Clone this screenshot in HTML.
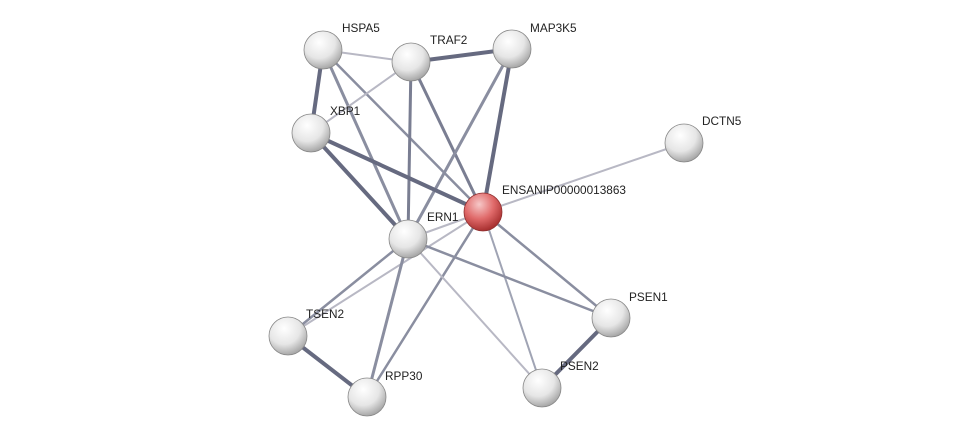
<!DOCTYPE html>
<html><head><meta charset="utf-8"><style>
html,body{margin:0;padding:0;background:#fff;}
svg{display:block;}
text{font-family:"Liberation Sans",sans-serif;font-size:11.8px;fill:#222;}
</style></head><body>
<svg width="975" height="443" viewBox="0 0 975 443" xmlns="http://www.w3.org/2000/svg">
<defs>
<radialGradient id="g" cx="40%" cy="30%" r="70%">
<stop offset="0" stop-color="#ffffff"/><stop offset="0.6" stop-color="#e6e6e6"/><stop offset="1" stop-color="#a8a8a8"/>
</radialGradient>
<radialGradient id="r" cx="40%" cy="30%" r="70%">
<stop offset="0" stop-color="#f6c8c8"/><stop offset="0.55" stop-color="#e06a6a"/><stop offset="1" stop-color="#a83030"/>
</radialGradient>
</defs>
<g stroke-linecap="round">
<line x1="323" y1="50" x2="411" y2="62" stroke="#b8b8c4" stroke-width="2"/>
<line x1="323" y1="50" x2="311" y2="133" stroke="#666a80" stroke-width="4"/>
<line x1="323" y1="50" x2="408" y2="239" stroke="#8a8ea0" stroke-width="3"/>
<line x1="323" y1="50" x2="483" y2="212" stroke="#8a8ea0" stroke-width="2.5"/>
<line x1="411" y1="62" x2="512" y2="49" stroke="#666a80" stroke-width="4"/>
<line x1="411" y1="62" x2="311" y2="133" stroke="#b8b8c4" stroke-width="2"/>
<line x1="411" y1="62" x2="408" y2="239" stroke="#7a7e92" stroke-width="3"/>
<line x1="411" y1="62" x2="483" y2="212" stroke="#7a7e92" stroke-width="3"/>
<line x1="512" y1="49" x2="483" y2="212" stroke="#666a80" stroke-width="4"/>
<line x1="512" y1="49" x2="408" y2="239" stroke="#8a8ea0" stroke-width="3"/>
<line x1="311" y1="133" x2="408" y2="239" stroke="#666a80" stroke-width="4"/>
<line x1="311" y1="133" x2="483" y2="212" stroke="#666a80" stroke-width="4"/>
<line x1="684" y1="143" x2="483" y2="212" stroke="#b8b8c4" stroke-width="2"/>
<line x1="483" y1="212" x2="408" y2="239" stroke="#b8b8c4" stroke-width="2"/>
<line x1="483" y1="212" x2="288" y2="336" stroke="#b8b8c4" stroke-width="2"/>
<line x1="483" y1="212" x2="367" y2="397" stroke="#8a8ea0" stroke-width="2.5"/>
<line x1="483" y1="212" x2="611" y2="318" stroke="#8a8ea0" stroke-width="2.5"/>
<line x1="483" y1="212" x2="542" y2="388" stroke="#a0a4b4" stroke-width="2"/>
<line x1="408" y1="239" x2="288" y2="336" stroke="#8a8ea0" stroke-width="2.5"/>
<line x1="408" y1="239" x2="367" y2="397" stroke="#8a8ea0" stroke-width="3"/>
<line x1="408" y1="239" x2="611" y2="318" stroke="#8a8ea0" stroke-width="2.5"/>
<line x1="408" y1="239" x2="542" y2="388" stroke="#b8b8c4" stroke-width="2"/>
<line x1="288" y1="336" x2="367" y2="397" stroke="#666a80" stroke-width="4"/>
<line x1="611" y1="318" x2="542" y2="388" stroke="#666a80" stroke-width="4"/>
</g>
<g stroke="#888" stroke-width="0.8">
<circle cx="323" cy="50" r="19" fill="url(#g)"/>
<circle cx="411" cy="62" r="19" fill="url(#g)"/>
<circle cx="512" cy="49" r="19" fill="url(#g)"/>
<circle cx="311" cy="133" r="19" fill="url(#g)"/>
<circle cx="684" cy="143" r="19" fill="url(#g)"/>
<circle cx="483" cy="212" r="19" fill="url(#r)" stroke="#903030"/>
<circle cx="408" cy="239" r="19" fill="url(#g)"/>
<circle cx="288" cy="336" r="19" fill="url(#g)"/>
<circle cx="611" cy="318" r="19" fill="url(#g)"/>
<circle cx="542" cy="388" r="19" fill="url(#g)"/>
<circle cx="367" cy="397" r="19" fill="url(#g)"/>
</g>
<text x="342" y="32">HSPA5</text>
<text x="430" y="44">TRAF2</text>
<text x="530" y="32">MAP3K5</text>
<text x="330" y="115">XBP1</text>
<text x="702" y="125">DCTN5</text>
<text x="502" y="194">ENSANIP00000013863</text>
<text x="427" y="221">ERN1</text>
<text x="306" y="318">TSEN2</text>
<text x="629" y="301">PSEN1</text>
<text x="560" y="370">PSEN2</text>
<text x="385" y="380">RPP30</text>
</svg>
</body></html>
